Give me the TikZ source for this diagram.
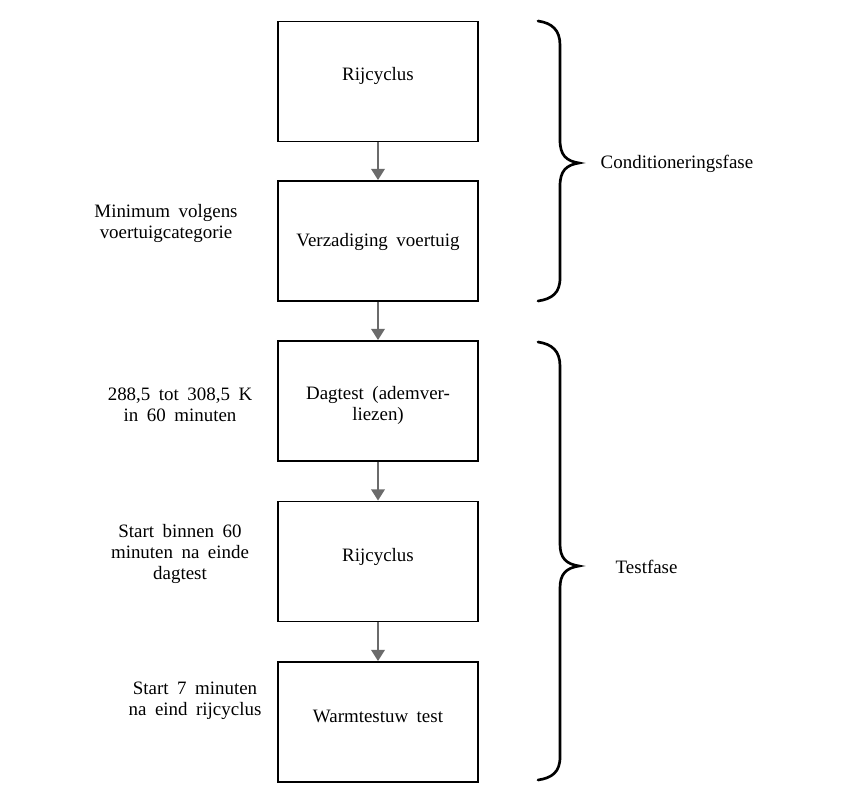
\documentclass[tikz,border=0pt]{standalone}
\usepackage{fontspec}
\setmainfont{Liberation Serif}
\usetikzlibrary{arrows.meta}
\newcommand{\myfont}{\fontsize{14.2}{15.75}\selectfont\spaceskip=0.45em plus 0.1em}
\begin{document}
\begin{tikzpicture}[x=0.75pt,y=-0.75pt,
  box/.style={draw, line width=1.3pt, minimum width=150pt, minimum height=90pt, inner sep=0pt},
  lbl/.style={align=center, font=\myfont},
  conn/.style={draw=black!58, line width=2pt, -{Triangle[width=10pt,length=8.5pt]}},
  brace/.style={line width=2pt, line cap=round}]
\useasboundingbox (0,0) rectangle (862,805);
\node[box] (b1) at (378,81.5) {};
\node[box] (b2) at (378,241) {};
\node[box] (b3) at (378,401) {};
\node[box] (b4) at (378,561.5) {};
\node[box] (b5) at (378,722) {};
\node[lbl] (t1) at (378,76) {Rijcyclus};
\node[lbl] (t2) at (378,242) {Verzadiging voertuig};
\node[lbl] (t3) at (378,405) {Dagtest (ademver-\\liezen)};
\node[lbl] (t4) at (378,557) {Rijcyclus};
\node[lbl] (t5) at (378,716) {Warmtestuw test};
\draw[conn] (b1) -- (b2);
\draw[conn] (b2) -- (b3);
\draw[conn] (b3) -- (b4);
\draw[conn] (b4) -- (b5);
\node[lbl] (l2) at (166,223) {Minimum volgens\\voertuigcategorie};
\node[lbl] (l3) at (180,405) {288,5 tot 308,5 K\\in 60 minuten};
\node[lbl] (l4) at (180,554) {Start binnen 60\\minuten na einde\\dagtest};
\node[lbl] (l5) at (195,701) {Start 7 minuten\\na eind rijcyclus};
% braces
\draw[brace] (538,21) .. controls (552,23) and (560,30) .. (560,45)
  -- (560,140) .. controls (560,155) and (566,161) .. (579,163)
  .. controls (566,165) and (560,171) .. (560,186)
  -- (560,278) .. controls (560,293) and (552,299) .. (538,301);
\node[lbl, anchor=west] (c1) at (596,164) {Conditioneringsfase};
\draw[brace] (538,342) .. controls (552,344) and (560,351) .. (560,366)
  -- (560,544) .. controls (560,558) and (566,564) .. (579,566)
  .. controls (566,568) and (560,574) .. (560,588)
  -- (560,757) .. controls (560,772) and (552,778) .. (538,780);
\node[lbl, anchor=west] (c2) at (611,567) {Testfase};
\end{tikzpicture}
\end{document}
